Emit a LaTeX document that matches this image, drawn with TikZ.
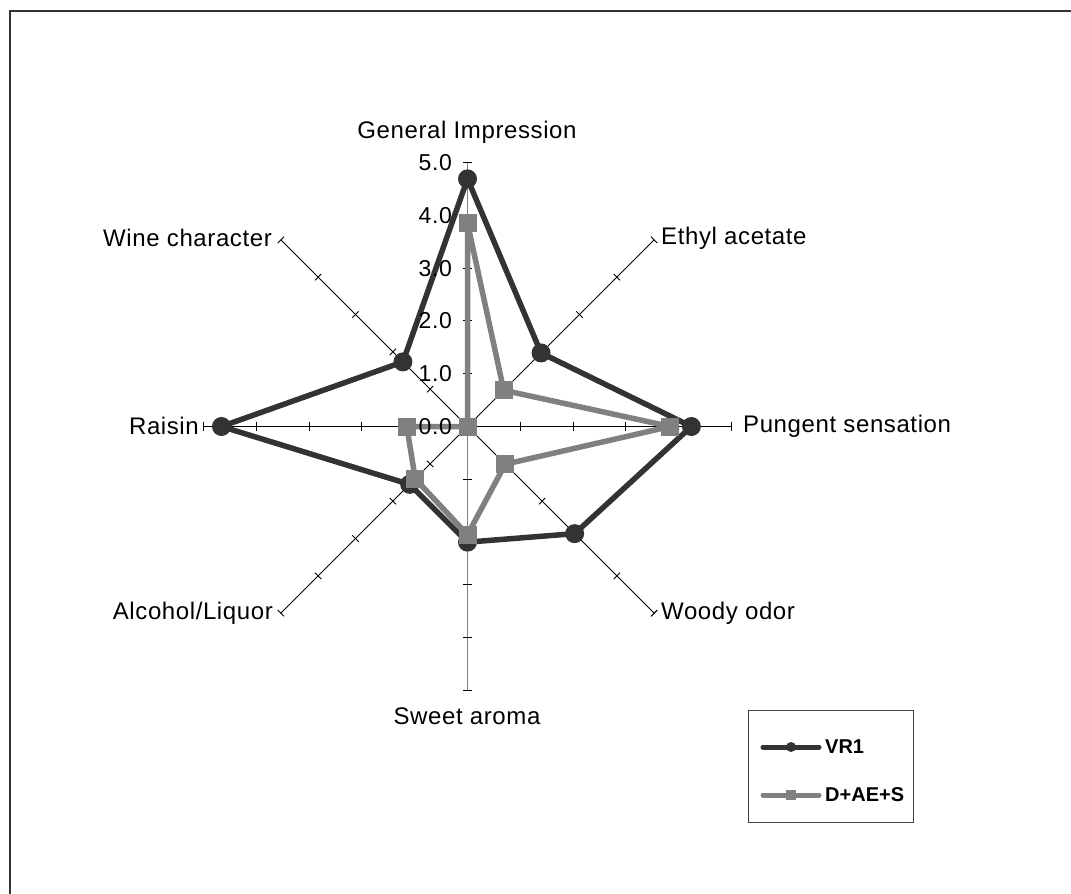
\documentclass[tikz,border=0pt]{standalone}
\usepackage{fontspec}
\setmainfont{Liberation Sans}
\newfontfamily\lblfont[LetterSpace=2.5]{Liberation Sans}
\definecolor{serA}{HTML}{333333}
\definecolor{serB}{HTML}{808080}
\begin{document}
\begin{tikzpicture}[x=1pt,y=-1pt,
  lbl/.style={font=\lblfont\fontsize{24}{28}\selectfont, inner sep=0pt},
  tlbl/.style={font=\lblfont\fontsize{23}{27}\selectfont, inner sep=0pt, anchor=east},
  legtxt/.style={font=\fontsize{20}{24}\selectfont\bfseries, inner sep=0pt, anchor=west},
  spoke/.style={black, line width=0.9pt},
  vspoke/.style={serB, line width=1.4pt},
  tickmark/.style={black, line width=0.9pt},
  serAline/.style={serA, line width=5.5pt, line join=round, line cap=round},
  serBline/.style={serB, line width=5.5pt, line join=round, line cap=round},
  dotA/.style={circle, fill=serA, minimum size=19pt, inner sep=0pt},
  sqB/.style={rectangle, fill=serB, minimum size=18pt, inner sep=0pt},
  dotAs/.style={circle, fill=serA, minimum size=10pt, inner sep=0pt},
  sqBs/.style={rectangle, fill=serB, minimum size=10pt, inner sep=0pt}]
\useasboundingbox (0,0) rectangle (1071,894);
\fill[white] (0,0) rectangle (1071,894);
% outer frame (cropped on right and bottom)
\draw[line width=2pt, black!80] (10,894) -- (10,11) -- (1071,11);

\begin{scope}[shift={(467.5,426.5)}, x=52.8pt, y=52.8pt]
  % spokes
  \foreach \a in {0,45,135,180,225,315} {
    \draw[spoke, rotate=\a] (0,0) -- (5,0);
  }
  \draw[vspoke] (0,-5) -- (0,5);
  % ticks
  \foreach \a in {0,45,90,135,180,225,270,315} {
    \foreach \k in {1,...,5} {
      \draw[tickmark, rotate=\a] (\k,-0.085) -- (\k,0.085);
    }
  }
  % data points VR1
  \coordinate (a1) at (90:4.69);
  \coordinate (a2) at (45:1.97);
  \coordinate (a3) at (0:4.24);
  \coordinate (a4) at (-45:2.87);
  \coordinate (a5) at (-90:2.19);
  \coordinate (a6) at (-135:1.55);
  \coordinate (a7) at (180:4.66);
  \coordinate (a8) at (135:1.73);
  % data points D+AE+S
  \coordinate (b1) at (90:3.85);
  \coordinate (b2) at (45:0.97);
  \coordinate (b3) at (0:3.84);
  \coordinate (b4) at (-45:1.01);
  \coordinate (b5) at (-90:2.05);
  \coordinate (b6) at (-135:1.40);
  \coordinate (b7) at (180:1.15);
  \coordinate (b8) at (0,0);
\end{scope}

% series VR1
\draw[serAline] (a1) -- (a2) -- (a3) -- (a4) -- (a5) -- (a6) -- (a7) -- (a8) -- cycle;
\foreach \i in {1,...,8} { \node[dotA] (ma\i) at (a\i) {}; }
% series D+AE+S
\draw[serBline] (b1) -- (b2) -- (b3) -- (b4) -- (b5) -- (b6) -- (b7) -- (b8) -- cycle;
\foreach \i in {1,...,8} { \node[sqB] (mb\i) at (b\i) {}; }

% tick labels
\node[tlbl] (t5) at (452,162.5) {5.0};
\node[tlbl] (t4) at (452,215.3) {4.0};
\node[tlbl] (t3) at (452,268.1) {3.0};
\node[tlbl] (t2) at (452,320.9) {2.0};
\node[tlbl] (t1) at (452,373.7) {1.0};
\node[tlbl] (t0) at (452,426.5) {0.0};

% category labels
\node[lbl] (lGI) at (467,132) {General Impression};
\node[lbl, anchor=west] (lEA) at (661,238) {Ethyl acetate};
\node[lbl, anchor=west] (lPS) at (743,426) {Pungent sensation};
\node[lbl, anchor=west] (lWO) at (661,613) {Woody odor};
\node[lbl] (lSA) at (467,716) {Sweet aroma};
\node[lbl, anchor=east] (lAL) at (273,613) {Alcohol/Liquor};
\node[lbl, anchor=east] (lRA) at (199,426) {Raisin};
\node[lbl, anchor=east] (lWC) at (272,238) {Wine character};

% legend
\node[draw=black!75, line width=1.3pt, minimum width=165pt, minimum height=112pt, inner sep=0pt, anchor=north west] (leg) at (748,710) {};
\coordinate (l1a) at (763,747);
\coordinate (l1b) at (819,747);
\coordinate (l2a) at (763,795);
\coordinate (l2b) at (819,795);
\draw[serA, line width=5pt, line cap=round] (l1a) -- (l1b);
\node[dotAs] (lm1) at (791,747) {};
\draw[serB, line width=5pt, line cap=round] (l2a) -- (l2b);
\node[sqBs] (lm2) at (791,795) {};
\node[legtxt] (lt1) at (825,747) {VR1};
\node[legtxt] (lt2) at (825,795) {D+AE+S};
\end{tikzpicture}
\end{document}
